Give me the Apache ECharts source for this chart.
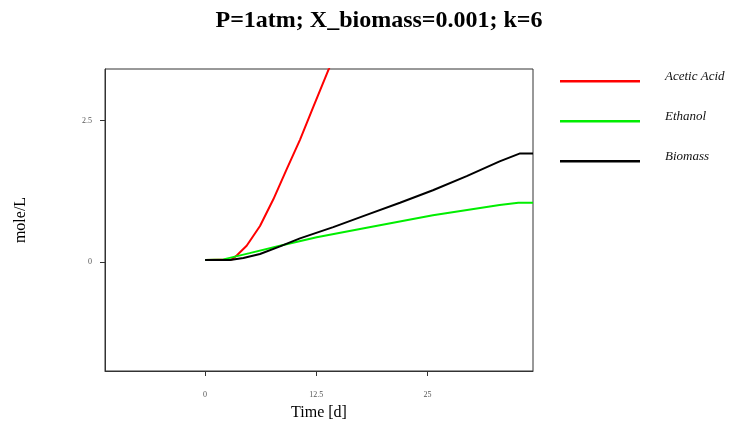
<!DOCTYPE html>
<html>
<head>
<meta charset="utf-8">
<script src="https://cdn.jsdelivr.net/npm/echarts@6/dist/echarts.min.js"></script>
<style>html,body{margin:0;padding:0;background:#fff;}#c{width:729px;height:426px;}</style>
</head>
<body>
<div id="c"></div>
<script>
var titleText = 'P=1atm; X_biomass=0.001; k=6';
var seriesNames = ['Acetic Acid', 'Ethanol', 'Biomass'];
var xTicks = [0, 12.5, 25];
var yTicks = [0, 2.5];

var acidTime = [0, 3.0, 3.55, 4.67, 6.17, 7.67, 9.16, 10.66, 12.16, 13.93, 15.0];
var acidVal  = [0.04, 0.05, 0.12, 0.29, 0.64, 1.11, 1.64, 2.16, 2.74, 3.42, 3.86];

var ethTime = [0, 2.06, 5.0, 8.42, 12.54, 18.15, 25.6, 33.1, 35.2, 36.85];
var ethVal  = [0.04, 0.05, 0.16, 0.29, 0.44, 0.61, 0.83, 1.01, 1.05, 1.05];

var bioTime = [0, 2.8, 4.3, 6.17, 8.42, 10.66, 14.4, 18.15, 21.9, 25.6, 29.4, 33.1, 35.4, 36.85];
var bioVal  = [0.04, 0.04, 0.075, 0.145, 0.28, 0.42, 0.62, 0.835, 1.05, 1.27, 1.52, 1.78, 1.92, 1.92];

function pairs(t, v) { return t.map(function (x, i) { return [x, v[i]]; }); }

var serif = 'Liberation Serif';
var legendIcon = 'path://M0,0 M0,14 M0,10 L80,10 L80,12.5 L0,12.5 Z';
var chart = echarts.init(document.getElementById('c'));
chart.setOption({
  animation: false,
  backgroundColor: '#fff',
  title: {
    text: titleText,
    left: 374, top: 4, textAlign: 'center',
    textStyle: { fontFamily: serif, fontWeight: 'bold', fontSize: 24, color: '#000' }
  },
  legend: {
    orient: 'vertical',
    left: 555, top: 65,
    itemWidth: 80, itemHeight: 14, itemGap: 26,
    icon: legendIcon,
    data: seriesNames,
    textStyle: { fontFamily: serif, fontStyle: 'italic', fontSize: 13, color: '#111', padding: [0, 0, 0, 20] }
  },
  grid: { left: 105, right: 196, top: 69, bottom: 53, show: true, borderColor: '#333', borderWidth: 1 },
  xAxis: {
    type: 'value', min: -11.25, max: 36.85,
    name: 'Time [d]', nameLocation: 'middle', nameGap: 34,
    nameTextStyle: { fontFamily: serif, fontSize: 16, color: '#000' },
    axisLine: { show: true, onZero: false, lineStyle: { color: '#333' } },
    axisTick: { show: true, length: 5, customValues: xTicks, lineStyle: { color: '#333' } },
    axisLabel: { customValues: xTicks, margin: 20, fontFamily: serif, fontSize: 8, color: '#555' },
    splitLine: { show: false }
  },
  yAxis: {
    type: 'value', min: -1.92, max: 3.41,
    name: 'mole/L', nameLocation: 'middle', nameGap: 76, nameRotate: 90,
    nameTextStyle: { fontFamily: serif, fontSize: 16, color: '#000' },
    axisLine: { show: true, onZero: false, lineStyle: { color: '#333' } },
    axisTick: { show: true, length: 5, customValues: yTicks, lineStyle: { color: '#333' } },
    axisLabel: { customValues: yTicks, margin: 13, fontFamily: serif, fontSize: 8, color: '#555' },
    splitLine: { show: false }
  },
  series: [
    { name: seriesNames[0], type: 'line', data: pairs(acidTime, acidVal), showSymbol: false, symbol: 'none', clip: true,
      itemStyle: { color: '#ff0000' }, lineStyle: { color: '#ff0000', width: 2 }, z: 2 },
    { name: seriesNames[1], type: 'line', data: pairs(ethTime, ethVal), showSymbol: false, symbol: 'none', clip: true,
      itemStyle: { color: '#00ee00' }, lineStyle: { color: '#00ee00', width: 2 }, z: 3 },
    { name: seriesNames[2], type: 'line', data: pairs(bioTime, bioVal), showSymbol: false, symbol: 'none', clip: true,
      itemStyle: { color: '#000' }, lineStyle: { color: '#000', width: 2 }, z: 4 }
  ]
});
</script>
</body>
</html>
